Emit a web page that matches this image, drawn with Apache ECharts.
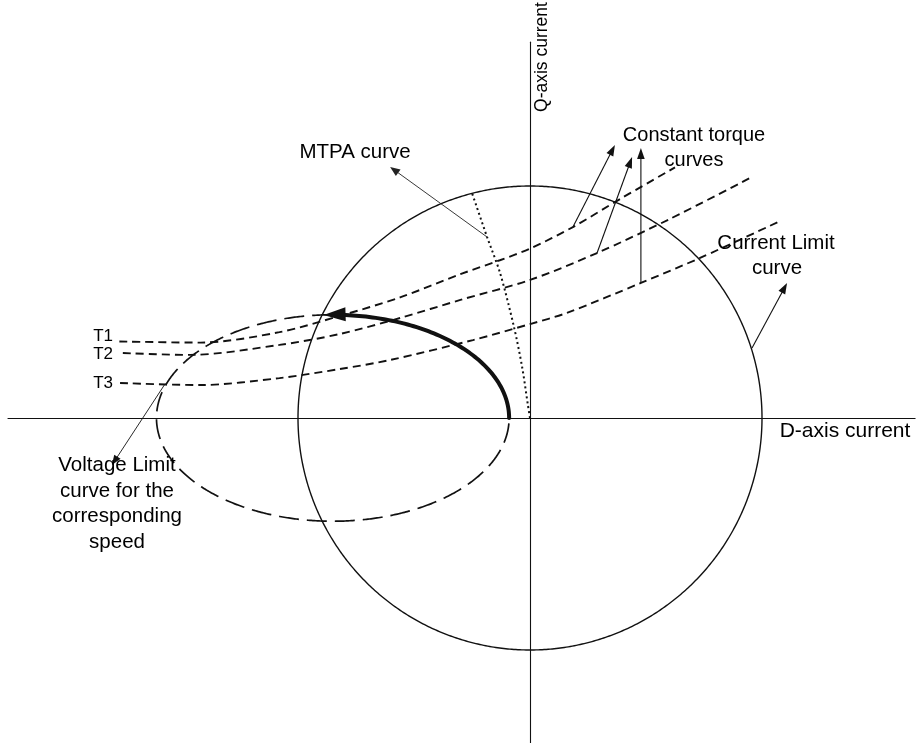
<!DOCTYPE html>
<html>
<head>
<meta charset="utf-8">
<script src="https://cdn.jsdelivr.net/npm/echarts@6/dist/echarts.min.js"></script>
<style>
  html, body { margin: 0; padding: 0; background: #ffffff; }
  #chart { width: 923px; height: 743px; }
</style>
</head>
<body>
<div id="chart"></div>
<script>
// d-q current plane of an interior PM machine (currents in amperes)
const dAxisRange = [-225, 166];
const qAxisRange = [-140, 162];

// Constant-torque loci, [id, iq]; T1 > T2 > T3
const torqueT1 = [[-177, 33], [-142, 32.5], [-108, 37], [-82, 44], [-56, 52], [-30, 62], [-13, 68], [0, 73], [18.5, 82.3], [39, 94.5], [62.5, 108]];
const torqueT2 = [[-175.5, 28], [-146.5, 27.2], [-108, 31.5], [-82, 36.2], [-56, 43.1], [-30, 50.9], [0, 59.5], [28.9, 71.1], [60.3, 85.8], [95.7, 103.9]];
const torqueT3 = [[-176.7, 15.1], [-142, 14.2], [-108, 17.2], [-82, 21.1], [-60.3, 25], [-24.6, 33.6], [0, 40.5], [15.9, 45.3], [47.8, 58.2], [73.3, 69], [107, 84.5]];

// Maximum-torque-per-ampere trajectory, [id, iq]
const mtpaCurve = [[0, 0], [-0.9, 5.6], [-3.4, 22], [-6.9, 39.2], [-12.9, 62.5], [-18.5, 78], [-25, 97]];

// Current-limit circle: [centre id, centre iq, semi-axis d, semi-axis q]
const currentLimit = [[0, 0, 100, 100]];
// Voltage-limit ellipse at the corresponding speed
const voltageLimit = [[-85, 0, 76, 44.5]];
// Operating path along the voltage ellipse, start / end angle (degrees)
const pathAngles = [0, 93];

// Leader arrows: [from id, from iq, to id, to iq]
const leaderMtpa = [[-18.5, 78, -60.3, 108.2]];
const leaderTorque = [[18.5, 82.3, 36.6, 117.7], [28.9, 71.1, 44, 112.5], [47.8, 58.2, 47.8, 116.4]];
const leaderCurrent = [[95.7, 30.2, 110.8, 58.2]];
const leaderVoltage = [[-157.3, 14.7, -180.2, -20.3]];

const INK = '#111111';
const FONT = '"Liberation Sans", Arial, sans-serif';

function ellipseItem(dash, width) {
  return function (params, api) {
    const c = api.coord([api.value(0), api.value(1)]);
    const s = api.size([api.value(2), api.value(3)]);
    const pts = [];
    for (let k = 0; k <= 720; k++) {
      const t = k * Math.PI / 360;
      pts.push([c[0] + s[0] * Math.cos(t), c[1] - s[1] * Math.sin(t)]);
    }
    return {
      type: 'polyline',
      shape: { points: pts },
      style: { fill: null, stroke: INK, lineWidth: width, lineDash: dash }
    };
  };
}

function arcArrowItem(params, api) {
  const c = api.coord([api.value(0), api.value(1)]);
  const s = api.size([api.value(2), api.value(3)]);
  const t0 = api.value(4) * Math.PI / 180;
  const t1 = api.value(5) * Math.PI / 180;
  const pts = [];
  const tEnd = t1 - 5 * Math.PI / 180;
  const n = 80;
  for (let k = 0; k <= n; k++) {
    const t = t0 + (tEnd - t0) * k / n;
    pts.push([c[0] + s[0] * Math.cos(t), c[1] - s[1] * Math.sin(t)]);
  }
  const tip = [c[0] + s[0] * Math.cos(t1), c[1] - s[1] * Math.sin(t1)];
  let ux = -s[0] * Math.sin(t1), uy = -s[1] * Math.cos(t1);
  const d = Math.hypot(ux, uy); ux /= d; uy /= d;
  const len = 22, half = 7;
  const bx = tip[0] - ux * len, by = tip[1] - uy * len;
  return {
    type: 'group',
    children: [
      { type: 'polyline', shape: { points: pts }, style: { fill: null, stroke: INK, lineWidth: 4, lineCap: 'round' } },
      { type: 'polygon', shape: { points: [tip, [bx - uy * half, by + ux * half], [bx + uy * half, by - ux * half]] }, style: { fill: INK } }
    ]
  };
}

function arrowItem(len, half, width, color) {
  return function (params, api) {
    const p1 = api.coord([api.value(0), api.value(1)]);
    const p2 = api.coord([api.value(2), api.value(3)]);
    const dx = p2[0] - p1[0], dy = p2[1] - p1[1];
    const d = Math.hypot(dx, dy);
    const ux = dx / d, uy = dy / d;
    const bx = p2[0] - ux * len, by = p2[1] - uy * len;
    return {
      type: 'group',
      children: [
        { type: 'line', shape: { x1: p1[0], y1: p1[1], x2: bx + ux * 2, y2: by + uy * 2 }, style: { stroke: color, lineWidth: width } },
        { type: 'polygon', shape: { points: [[p2[0], p2[1]], [bx - uy * half, by + ux * half], [bx + uy * half, by - ux * half]] }, style: { fill: color } }
      ]
    };
  };
}

function torqueSeries(name, data) {
  return {
    name: name, type: 'line', data: data, smooth: 0.3, symbol: 'none', silent: true,
    lineStyle: { color: INK, width: 1.9, type: [8, 5] }
  };
}

function text(str, x, y, size, opts) {
  return Object.assign({
    type: 'text', x: x, y: y, z: 100, silent: true,
    style: Object.assign({
      text: str, fill: '#000', font: size + 'px ' + FONT,
      align: 'center', verticalAlign: 'middle'
    }, (opts && opts.style) || {})
  }, (opts && opts.el) || {});
}

const chart = echarts.init(document.getElementById('chart'), null, { renderer: 'canvas' });

chart.setOption({
  animation: false,
  backgroundColor: '#ffffff',
  grid: { left: 8, top: 42.16, width: 907.12, height: 700.64 },
  xAxis: {
    type: 'value', min: dAxisRange[0], max: dAxisRange[1],
    axisLine: { show: true, onZero: true, lineStyle: { color: INK, width: 1.1 } },
    axisTick: { show: false }, axisLabel: { show: false }, splitLine: { show: false }
  },
  yAxis: {
    type: 'value', min: qAxisRange[0], max: qAxisRange[1],
    axisLine: { show: true, onZero: true, lineStyle: { color: INK, width: 1.1 } },
    axisTick: { show: false }, axisLabel: { show: false }, splitLine: { show: false }
  },
  series: [
    { name: 'Current limit', type: 'custom', data: currentLimit, renderItem: ellipseItem(null, 1.4), silent: true },
    { name: 'Voltage limit', type: 'custom', data: voltageLimit, renderItem: ellipseItem([20, 8], 1.7), silent: true },
    torqueSeries('T1', torqueT1),
    torqueSeries('T2', torqueT2),
    torqueSeries('T3', torqueT3),
    {
      name: 'MTPA', type: 'line', data: mtpaCurve, smooth: 0.3, symbol: 'none', silent: true,
      lineStyle: { color: INK, width: 2, type: [2, 3] }
    },
    {
      name: 'Operating path', type: 'custom', silent: true,
      data: voltageLimit.map(v => v.concat(pathAngles)),
      renderItem: arcArrowItem
    },
    { type: 'custom', silent: true, data: leaderMtpa, renderItem: arrowItem(10, 4, 0.9, '#222') },
    { type: 'custom', silent: true, data: leaderTorque, renderItem: arrowItem(11, 3.8, 1.1, INK) },
    { type: 'custom', silent: true, data: leaderCurrent, renderItem: arrowItem(11, 3.8, 1.1, INK) },
    { type: 'custom', silent: true, data: leaderVoltage, renderItem: arrowItem(10, 3.8, 0.9, INK) }
  ],
  graphic: [
    text('Q-axis current', 542, 57, 17.5, { el: { rotation: Math.PI / 2 } }),
    text('D-axis current', 845, 431, 21),
    text('MTPA curve', 355, 152, 20.5),
    text('Constant torque', 694, 135, 20),
    text('curves', 694, 160, 20),
    text('Current Limit', 776, 243, 20.5),
    text('curve', 777, 268, 20.5),
    text('T1', 113, 336, 17, { style: { align: 'right' } }),
    text('T2', 113, 354, 17, { style: { align: 'right' } }),
    text('T3', 113, 383, 17, { style: { align: 'right' } }),
    text('Voltage Limit\ncurve for the\ncorresponding\nspeed', 117, 504, 20.5, { style: { lineHeight: 25.5 } })
  ]
});
</script>
</body>
</html>
